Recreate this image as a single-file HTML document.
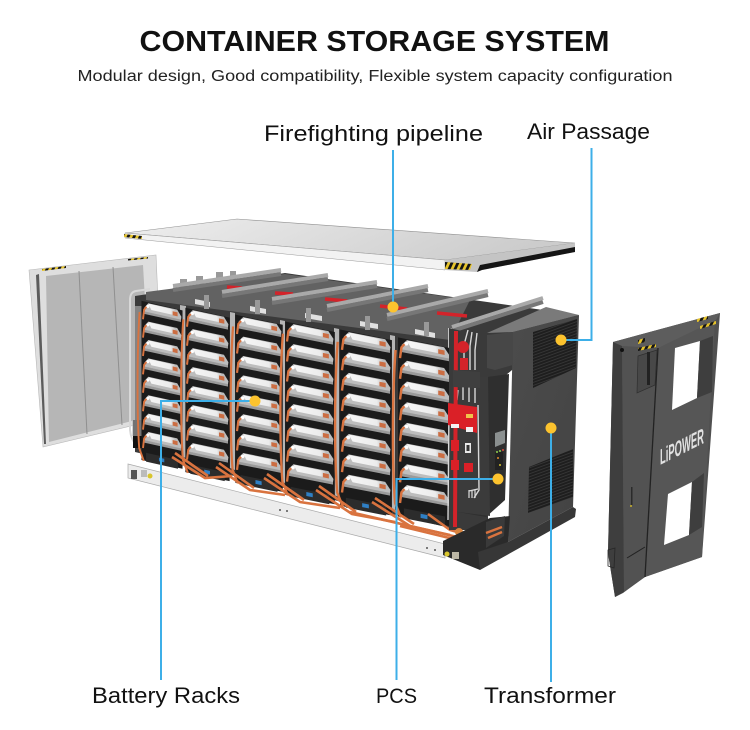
<!DOCTYPE html>
<html lang="en">
<head>
<meta charset="utf-8">
<title>Container Storage System</title>
<style>
html,body{margin:0;padding:0;background:#fff;width:750px;height:730px;overflow:hidden}
svg{display:block}
text{font-family:"Liberation Sans",sans-serif;fill:#111}
</style>
</head>
<body>
<svg width="750" height="730" viewBox="0 0 750 730" xmlns="http://www.w3.org/2000/svg">
<defs>
  <linearGradient id="lid" x1="0" y1="0" x2="1" y2="0.2"><stop offset="0" stop-color="#eeeeee"/><stop offset="1" stop-color="#cccccc"/></linearGradient>
  <linearGradient id="body" x1="0" y1="0" x2="1" y2="0"><stop offset="0" stop-color="#f6f6f6"/><stop offset=".75" stop-color="#ececec"/><stop offset="1" stop-color="#a8a8a8"/></linearGradient>
  <linearGradient id="cab" x1="0" y1="0" x2="1" y2="1"><stop offset="0" stop-color="#4c4c4c"/><stop offset="1" stop-color="#434343"/></linearGradient>
  <pattern id="hatch" width="4" height="3" patternUnits="userSpaceOnUse" patternTransform="skewY(-20)"><rect width="4" height="3" fill="#1e1e1e"/><rect width="4" height="1" fill="#353535"/></pattern>
  <pattern id="haz" width="6" height="6" patternUnits="userSpaceOnUse" patternTransform="skewX(-25)"><rect width="6" height="6" fill="#141414"/><rect width="3" height="6" fill="#e6c32b"/></pattern>
  <g id="mod">
    <polygon points="0,10 100,32 100,46 0,24" fill="#181818"/>
    <polygon points="0,17 100,38 100,45 0,24" fill="#9a9a9a"/>
    <polygon points="4,8 14,-2 90,14 101,32 100,39 2,18" fill="#bdbdbd"/>
    <polygon points="14,-1 82,14 92,30 22,15" fill="url(#body)"/>
    <polygon points="78,18 91,21 91,31 78,28" fill="#cb6d42"/>
    <circle cx="13" cy="6" r="4" fill="#fff"/>
    <path d="M9,7 L3,14 L0,38" fill="none" stroke="#d9733f" stroke-width="5"/>
  </g>
  <g id="col">
    <polygon points="-4,-8 104,16 104,412 -4,390" fill="#1b1b1b"/>
    <use href="#mod"/>
    <use href="#mod" y="46"/>
    <use href="#mod" y="92"/>
    <use href="#mod" y="138"/>
    <use href="#mod" y="184"/>
    <use href="#mod" y="230"/>
    <use href="#mod" y="276"/>
    <use href="#mod" y="322"/>
    <polygon points="8,372 92,390 92,412 8,394" fill="#2c2c2c"/>
    <polygon points="42,384 56,387 56,396 42,393" fill="#2f7fc4"/>
    <path d="M-9,20 C-16,120 -16,280 -10,360 L2,392" fill="none" stroke="#d9733f" stroke-width="5"/>
  </g>
</defs>

<!-- Heading -->
<text x="374.5" y="51" font-size="29" font-weight="700" text-anchor="middle" textLength="470" lengthAdjust="spacingAndGlyphs">CONTAINER STORAGE SYSTEM</text>
<text x="375" y="81" font-size="15.5" text-anchor="middle" textLength="595" lengthAdjust="spacingAndGlyphs" style="fill:#222">Modular design, Good compatibility, Flexible system capacity configuration</text>

<!-- Top lid -->
<polygon points="125,233 237,219 575,243 445,260" fill="url(#lid)" stroke="#8f8f8f" stroke-width=".6"/>
<polygon points="125,233 445,260 445,270 125,238" fill="#f2f2f2" stroke="#9a9a9a" stroke-width=".5"/>
<polygon points="445,260 575,243 575,252 482,270 477,272 445,270" fill="#c4c4c4"/>
<polygon points="480,265 575,247 575,252 482,270 477,272" fill="#151515"/>
<polygon points="445,262 472,264 470,270 445,269" fill="url(#haz)"/>
<polygon points="124,234 142,236 142,239 124,237" fill="url(#haz)"/>

<!-- Left door -->
<polygon points="29,270 156,255 158,300 135,425 43,447" fill="#dedede" stroke="#b8b8b8" stroke-width=".6"/>
<polygon points="46,276 143,265 145,300 136,420 49,442" fill="#b6b6b6"/>
<polygon points="36,275 39,274 46,444 44,444" fill="#5c5c5c"/>
<line x1="79" y1="271" x2="87" y2="434" stroke="#8f8f8f"/>
<line x1="113" y1="267" x2="122" y2="425" stroke="#8f8f8f"/>
<polygon points="42,269 66,266 66,268 42,271" fill="url(#haz)"/>
<polygon points="128,259 148,257 148,258.5 128,260.5" fill="url(#haz)"/>

<!-- Base rail -->
<polygon points="128,464 445,544 445,558 128,478" fill="#ececec" stroke="#a9a9a9" stroke-width=".7"/>
<rect x="131" y="470" width="6" height="9" fill="#555"/>
<rect x="141" y="470" width="6" height="7" fill="#bbb"/>
<circle cx="150" cy="476" r="2.5" fill="#d8c52d"/>
<circle cx="280" cy="510" r="1" fill="#555"/><circle cx="287" cy="511" r="1" fill="#555"/>
<circle cx="427" cy="548" r="1" fill="#555"/><circle cx="435" cy="550" r="1" fill="#555"/>

<!-- Rack body -->
<polygon points="135,296 285,273 578,315 500,380 450,528 135,452" fill="#3a3a3a"/>
<polygon points="146,292 285,274 470,300 450,340 146,300" fill="#626262"/>
<path d="M150,289 L136,291 Q130,292 130,300 L130,430 Q131,440 137,446" fill="none" stroke="#d8d8d8" stroke-width="2"/>
<rect x="133" y="420" width="10" height="28" fill="#111"/>
<rect x="132" y="306" width="12" height="130" fill="#b5b5b5" opacity=".6"/>
<polygon points="180,305 186,306 186,458 180,456" fill="#b5b5b5"/>
<polygon points="230,312 235,313 235,470 230,468" fill="#b5b5b5"/>
<polygon points="280,320 285,321 285,483 280,481" fill="#b5b5b5"/>
<polygon points="334,328 339,329 339,497 334,495" fill="#b5b5b5"/>
<polygon points="390,335 395,336 395,510 390,508" fill="#b5b5b5"/>
<polygon points="448,328 452,328 452,525 448,525" fill="#c4c4c4"/>

<!-- Battery columns -->
<use href="#col" transform="translate(143,304) scale(.38,.40)"/>
<use href="#col" transform="translate(187,311) scale(.41,.413)"/>
<use href="#col" transform="translate(237,318) scale(.44,.422)"/>
<use href="#col" transform="translate(287,325) scale(.46,.435)"/>
<use href="#col" transform="translate(342,333) scale(.48,.443)"/>
<use href="#col" transform="translate(400,341) scale(.49,.45)"/>

<!-- Top caps -->
<polygon points="195,299 210,302 210,307 195,304" fill="#e0e0e0"/>
<polygon points="250,306 266,309 266,314 250,311" fill="#e0e0e0"/>
<polygon points="305,313 322,316 322,321 305,318" fill="#e0e0e0"/>
<polygon points="360,321 378,324 378,329 360,326" fill="#e0e0e0"/>
<polygon points="415,329 435,333 435,338 415,334" fill="#e0e0e0"/>
<g fill="#999">
  <rect x="180" y="279" width="7" height="8"/><rect x="196" y="276" width="7" height="8"/>
  <rect x="216" y="272" width="7" height="8"/><rect x="230" y="271" width="6" height="8"/>
  <rect x="204" y="295" width="5" height="14"/><rect x="255" y="300" width="5" height="14"/>
  <rect x="306" y="308" width="5" height="14"/><rect x="365" y="316" width="5" height="14"/>
  <rect x="424" y="322" width="5" height="14"/>
</g>
<!-- Red pipes under rails -->
<g stroke="#d3232a" stroke-width="3.5" fill="none">
  <line x1="227" y1="287" x2="242" y2="288"/>
  <line x1="275" y1="293" x2="293" y2="294"/>
  <line x1="325" y1="299" x2="347" y2="301"/>
  <line x1="380" y1="306" x2="407" y2="309"/>
  <line x1="437" y1="313" x2="467" y2="316"/>
</g>
<!-- Rails -->
<g stroke="#a9a9a9" stroke-width="4" fill="none">
  <line x1="173" y1="286" x2="281" y2="270"/>
  <line x1="222" y1="292" x2="328" y2="275"/>
  <line x1="272" y1="299" x2="377" y2="282"/>
  <line x1="327" y1="306" x2="428" y2="286"/>
  <line x1="387" y1="315" x2="488" y2="291"/>
  <line x1="452" y1="327" x2="543" y2="298"/>
</g>
<g stroke="#777" stroke-width="4" fill="none">
  <line x1="173" y1="290" x2="281" y2="274"/>
  <line x1="222" y1="296" x2="328" y2="279"/>
  <line x1="272" y1="303" x2="377" y2="286"/>
  <line x1="327" y1="310" x2="428" y2="290"/>
  <line x1="387" y1="319" x2="488" y2="295"/>
  <line x1="452" y1="331" x2="543" y2="302"/>
</g>

<!-- Orange cables across the base -->
<g fill="none" stroke="#d9733f" stroke-width="2.6">
  <path d="M172,457 L205,478 L232,476"/><path d="M175,453 L208,476"/>
  <path d="M216,467 L250,490 L285,495"/><path d="M219,463 L254,488"/>
  <path d="M264,478 L300,502 L340,508"/><path d="M267,474 L304,500"/>
  <path d="M316,490 L352,514 L395,522"/><path d="M319,486 L356,512"/>
  <path d="M372,502 L410,526 L450,535"/><path d="M375,498 L414,524"/>
  <path d="M428,514 L450,530 L478,538"/><path d="M350,512 L470,540"/><path d="M400,526 L470,543"/>
</g>

<!-- PCS section -->
<polygon points="449,328 488,337 488,530 449,530" fill="#3a3a3a"/>
<polygon points="480,378 509,374 505,500 486,517 458,512 462,380" fill="#2f2f2f"/>
<polygon points="459,378 488,376 490,516 458,512" fill="#3b3b3b"/>
<g fill="none" stroke="#d8d8d8" stroke-width="1.4">
  <path d="M468,330 L464,345 L464,370"/><path d="M472,332 L470,346 L470,370"/><path d="M477,333 L475,350 L475,370"/>
  <path d="M458,390 L457,400"/><path d="M463,387 L463,400"/><path d="M469,387 L469,402"/><path d="M475,388 L475,403"/>
  <path d="M449,405 L448,520"/><path d="M478,405 L479,490 L474,498"/>
</g>
<line x1="456" y1="331" x2="455" y2="527" stroke="#d3232a" stroke-width="4"/>
<circle cx="463" cy="347" r="6" fill="#d3232a"/>
<rect x="460" y="358" width="8" height="12" fill="#d3232a"/>
<polygon points="453,370 480,372 480,388 453,387" fill="#3f3f3f"/>
<polygon points="448,403 477,407 477,433 448,425" fill="#da2027"/>
<rect x="466" y="414" width="7" height="4" fill="#f1c24a"/>
<rect x="451" y="424" width="8" height="4" fill="#f3f3f3"/><rect x="466" y="427" width="7" height="5" fill="#f3f3f3"/>
<rect x="451" y="440" width="8" height="11" fill="#da2027"/>
<rect x="451" y="460" width="8" height="10" fill="#da2027"/>
<rect x="464" y="463" width="9" height="9" fill="#da2027"/>
<rect x="465" y="443" width="6" height="10" fill="#e8e8e8"/>
<rect x="466.5" y="445" width="3" height="6" fill="#333"/>
<polygon points="495,433 505,430 505,443 495,447" fill="#8b9090"/>
<rect x="495" y="452" width="8" height="18" fill="#222"/>
<circle cx="497" cy="452" r="1" fill="#8fd14f"/><circle cx="500" cy="451" r="1" fill="#8fd14f"/><circle cx="503" cy="450" r="1" fill="#e04b3a"/>
<circle cx="498" cy="458" r="1" fill="#e0892e"/><circle cx="500" cy="465" r="1" fill="#d8c52d"/>
<path d="M469,490 L469,498 M472,490 L472,498 M475,490 L475,498 M469,491 L478,489" stroke="#ddd" stroke-width="1.2" fill="none"/>
<circle cx="459" cy="532" r="4" fill="#d9843e"/>

<!-- Right cabinet -->
<polygon points="487,333 546,307 579,315 513,332" fill="#7a7a7a"/>
<polygon points="513,332 579,315 573,507 508,542" fill="url(#cab)"/>
<polygon points="487,335 513,332 513,365 495,370 487,368" fill="#474747"/>
<polygon points="533,332 577,319 576,368 533,388" fill="url(#hatch)"/>
<polygon points="529,467 573,449 573,497 528,513" fill="url(#hatch)"/>
<polygon points="443,541 490,518 510,516 508,542 480,570 443,555" fill="#2a2a2a"/>
<polygon points="486,522 505,516 504,536 486,548" fill="#3a3a3a"/>
<path d="M486,533 L502,527 M488,538 L502,532" stroke="#d9733f" stroke-width="2.5"/>
<polygon points="508,542 573,507 576,509 575,517 480,570 478,552" fill="#373737"/>
<circle cx="447" cy="554" r="2.5" fill="#d8c52d"/>
<rect x="452" y="552" width="7" height="7" fill="#bcb7a6"/>

<!-- Right door -->
<polygon points="613,342 720,313 702,557 645,577 623,593 615,597 608,553" fill="#505050"/>
<polygon points="613,342 622,345 624,592 615,597 608,553" fill="#3e3e3e"/>
<polygon points="622,345 658,348 645,577 624,590" fill="#525252"/>
<polygon points="658,346 715,319 702,557 645,577" fill="#565656"/>
<polygon points="613,342 720,313 716,320 658,348 622,346" fill="#5d5d5d"/>
<line x1="658" y1="348" x2="645" y2="577" stroke="#222" stroke-width="1.3"/>
<polygon points="638,356 657,350 655,385 637,393" fill="#484848" stroke="#2f2f2f" stroke-width=".7"/>
<rect x="647" y="352" width="3" height="33" fill="#222"/>
<polygon points="675,348 700,341 697,398 672,410" fill="#fff"/>
<polygon points="700,341 713,336 712,392 697,398" fill="#3e3e3e"/>
<polygon points="668,494 692,482 689,535 664,545" fill="#fff"/>
<polygon points="692,482 704,473 702,527 689,535" fill="#3e3e3e"/>
<polygon points="638,340 645,338 645,342 638,344" fill="url(#haz)"/>
<polygon points="638,348 656,344 656,347 638,351" fill="url(#haz)"/>
<polygon points="697,319 708,316 708,319 697,322" fill="url(#haz)"/>
<polygon points="700,326 716,321 716,324 700,329" fill="url(#haz)"/>
<circle cx="622" cy="350" r="2" fill="#111"/>
<rect x="631" y="487" width="1.5" height="18" fill="#2b2b2b"/>
<circle cx="631" cy="506" r="1" fill="#c9b12b"/>
<polygon points="608,550 615,548 614,568 608,566" fill="none" stroke="#262626" stroke-width=".8"/>
<line x1="627" y1="558" x2="645" y2="547" stroke="#222" stroke-width="1"/>
<text transform="matrix(1,-0.5,0,1,660,465)" font-size="22" font-weight="700" textLength="44" lengthAdjust="spacingAndGlyphs" style="fill:#e2e2e2">LiPOWER</text>

<!-- Callout lines -->
<g fill="none" stroke="#3dafe8" stroke-width="2">
  <line x1="393" y1="150" x2="393" y2="306"/>
  <polyline points="591.5,148 591.5,340 561,340"/>
  <polyline points="161,680 161,401 255,401"/>
  <polyline points="396.5,680 396.5,479 498,479"/>
  <line x1="551" y1="682" x2="551" y2="428"/>
</g>
<g fill="#fcc32e">
  <circle cx="393" cy="307" r="5.5"/>
  <circle cx="561" cy="340" r="5.5"/>
  <circle cx="255" cy="401" r="5.5"/>
  <circle cx="498" cy="479" r="5.5"/>
  <circle cx="551" cy="428" r="5.5"/>
</g>

<!-- Labels -->
<text x="264" y="141" font-size="22" textLength="219" lengthAdjust="spacingAndGlyphs">Firefighting pipeline</text>
<text x="527" y="139" font-size="22" textLength="123" lengthAdjust="spacingAndGlyphs">Air Passage</text>
<text x="92" y="703" font-size="22" textLength="148" lengthAdjust="spacingAndGlyphs">Battery Racks</text>
<text x="376" y="703" font-size="21" textLength="41" lengthAdjust="spacingAndGlyphs">PCS</text>
<text x="484" y="703" font-size="22" textLength="132" lengthAdjust="spacingAndGlyphs">Transformer</text>
</svg>
</body>
</html>
